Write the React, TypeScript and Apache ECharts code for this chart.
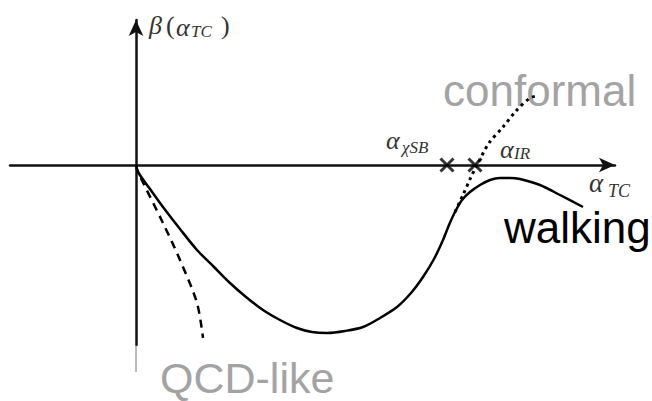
import React, { useEffect, useRef } from "react";
import * as echarts from "echarts";

// Schematic beta-function curves (alpha_TC, beta) in plot units
const walkingCurve: [number, number][] = [
  [0, 0], [2, -7], [14, -24], [27, -42], [44, -64], [61, -85], [78, -102], [94, -118],
  [110, -132], [127, -145], [144, -155], [161, -163], [176, -167], [191, -168], [209, -166],
  [227, -162], [244, -153], [261, -142], [275, -128], [287, -112], [298, -94], [307, -75],
  [313, -60], [319, -47], [326, -35], [334, -27], [344, -20], [354, -15], [364, -13],
  [374, -13], [384, -14], [404, -20], [424, -30], [447, -42],
];
const qcdCurve: [number, number][] = [
  [0, 0], [2, -7], [27, -58], [44, -95], [61, -138], [67, -173],
];
const conformalCurve: [number, number][] = [
  [319, -47], [327, -30], [335, -12], [341, 0], [353, 22], [367, 38], [380, 54], [394, 67], [401, 69],
];
const fixedPoints: [number, number][] = [
  [311, 0], [339, 0],
];
const axisTail: [number, number][] = [
  [0, -180], [0, -207],
];
const xRange = [-126, 479];
const yRange = [-180, 145];

export default function App() {
  const ref = useRef<HTMLDivElement>(null);
  useEffect(() => {
    if (!ref.current) return;
    const chart = echarts.init(ref.current, undefined, { renderer: "svg" });
    const serif = "'Liberation Serif', 'Times New Roman', serif";
    const sans = "'Liberation Sans', Arial, sans-serif";
    const mathColor = "#333";
    const gray = "#a3a3a3";
    const t = (x: number, y: number, text: string, size: number, color: string, family: string, italic = true) => ({
      type: "text",
      x,
      y,
      style: {
        text,
        fill: color,
        fontSize: size,
        fontFamily: family,
        fontStyle: italic ? "italic" : "normal",
        align: "left",
        verticalAlign: "middle",
      },
    });
    chart.setOption({
      animation: false,
      backgroundColor: "#fff",
      grid: { left: 10, right: 37, top: 20, bottom: 56 },
      xAxis: {
        type: "value",
        min: xRange[0],
        max: xRange[1],
        axisLine: {
          onZero: true,
          symbol: ["none", "arrow"],
          symbolSize: [11, 16],
          lineStyle: { color: "#111", width: 2.5 },
        },
        axisTick: { show: false },
        axisLabel: { show: false },
        splitLine: { show: false },
      },
      yAxis: {
        type: "value",
        min: yRange[0],
        max: yRange[1],
        axisLine: {
          show: true,
          onZero: true,
          symbol: ["none", "arrow"],
          symbolSize: [11, 16],
          lineStyle: { color: "#111", width: 2.5 },
        },
        axisTick: { show: false },
        axisLabel: { show: false },
        splitLine: { show: false },
      },
      series: [
        {
          type: "line",
          data: axisTail,
          clip: false,
          symbol: "none",
          lineStyle: { color: "#777", width: 1 },
        },
        {
          type: "line",
          data: qcdCurve,
          smooth: 0.3,
          symbol: "none",
          lineStyle: { color: "#000", width: 2.5, type: [8, 6] },
        },
        {
          type: "line",
          data: conformalCurve,
          smooth: 0.3,
          symbol: "none",
          lineStyle: { color: "#000", width: 3, type: [3, 4] },
        },
        {
          type: "line",
          data: walkingCurve,
          smooth: 0.3,
          symbol: "none",
          lineStyle: { color: "#000", width: 2.5 },
        },
        {
          type: "scatter",
          data: fixedPoints,
          symbol: "path://M0,0L10,10M10,0L0,10",
          symbolSize: 13,
          itemStyle: { color: "none", borderColor: "#000", borderWidth: 3 },
          z: 5,
        },
      ],
      graphic: [
        t(149, 25, "β", 26, mathColor, serif),
        t(166, 25, "(", 26, mathColor, serif, false),
        t(176, 27, "α", 26, mathColor, serif),
        t(191, 31, "TC", 17, mathColor, serif),
        t(221, 25, ")", 26, mathColor, serif, false),
        t(386, 140, "α", 26, mathColor, serif),
        t(402, 147, "χSB", 17, mathColor, serif),
        t(500, 149, "α", 26, mathColor, serif),
        t(514, 153, "IR", 17, mathColor, serif),
        t(589, 183, "α", 27, mathColor, serif),
        t(608, 191, "TC", 18, mathColor, serif),
        t(443, 90, "conformal", 44, gray, sans, false),
        t(504, 227, "walking", 44, "#000", sans, false),
        t(160, 378, "QCD-like", 43, gray, sans, false),
      ],
    });
    return () => chart.dispose();
  }, []);
  return (
    <div
      ref={ref}
      style={{ position: "fixed", left: 0, top: 0, width: 652, height: 401, background: "#fff" }}
    />
  );
}
